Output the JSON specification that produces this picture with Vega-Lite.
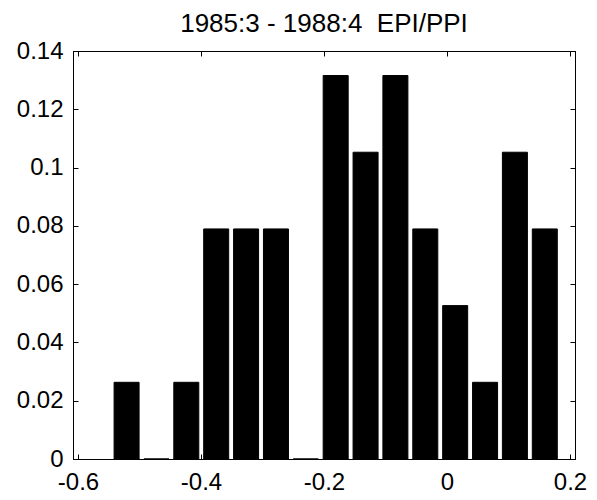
{
  "$schema": "https://vega.github.io/schema/vega-lite/v6.json",
  "width": 502,
  "height": 408,
  "autosize": {"type": "none"},
  "padding": {"left": 73, "top": 51, "right": 22, "bottom": 41},
  "background": "white",
  "title": {
    "text": "1985:3 - 1988:4\u00a0 EPI/PPI",
    "font": "Liberation Sans",
    "fontSize": 26,
    "fontWeight": "normal",
    "color": "black",
    "baseline": "alphabetic",
    "frame": "group",
    "offset": -19,
    "anchor": "middle"
  },
  "config": {
    "view": {"stroke": "black", "strokeWidth": 1},
    "axis": {
      "labelFont": "Liberation Sans",
      "labelFontSize": 24,
      "labelColor": "black",
      "domainColor": "black",
      "tickColor": "black",
      "tickSize": -5,
      "grid": false,
      "title": null
    }
  },
  "data": {
    "values": [
      {"center": -0.521, "freq": 0.026316},
      {"center": -0.4724, "freq": 0},
      {"center": -0.4239, "freq": 0.026316},
      {"center": -0.3753, "freq": 0.078947},
      {"center": -0.3267, "freq": 0.078947},
      {"center": -0.2781, "freq": 0.078947},
      {"center": -0.2296, "freq": 0},
      {"center": -0.181, "freq": 0.131579},
      {"center": -0.1324, "freq": 0.105263},
      {"center": -0.0839, "freq": 0.131579},
      {"center": -0.0353, "freq": 0.078947},
      {"center": 0.0133, "freq": 0.052632},
      {"center": 0.0619, "freq": 0.026316},
      {"center": 0.1104, "freq": 0.105263},
      {"center": 0.159, "freq": 0.078947}
    ]
  },
  "layer": [
    {
      "mark": {"type": "bar", "size": 25, "color": "black", "stroke": "black", "strokeWidth": 1},
      "encoding": {
        "x": {
          "field": "center", "type": "quantitative",
          "scale": {"domain": [-0.6, 0.2], "nice": false, "zero": false},
          "axis": {"orient": "bottom", "values": [-0.6, -0.4, -0.2, 0, 0.2], "labelExpr": "'' + datum.value", "labelPadding": 16, "labelBaseline": "top"}
        },
        "y": {
          "field": "freq", "type": "quantitative",
          "scale": {"domain": [0, 0.14], "nice": false},
          "axis": {"orient": "left", "values": [0, 0.02, 0.04, 0.06, 0.08, 0.1, 0.12, 0.14], "labelExpr": "'' + datum.value", "labelPadding": 15}
        }
      }
    },
    {
      "mark": {"type": "bar", "size": 25, "opacity": 0},
      "encoding": {
        "x": {
          "field": "center", "type": "quantitative",
          "axis": {"orient": "top", "values": [-0.6, -0.4, -0.2, 0, 0.2], "labels": false}
        },
        "y": {
          "field": "freq", "type": "quantitative",
          "axis": {"orient": "right", "values": [0, 0.02, 0.04, 0.06, 0.08, 0.1, 0.12, 0.14], "labels": false}
        }
      }
    }
  ],
  "resolve": {"axis": {"x": "independent", "y": "independent"}}
}
